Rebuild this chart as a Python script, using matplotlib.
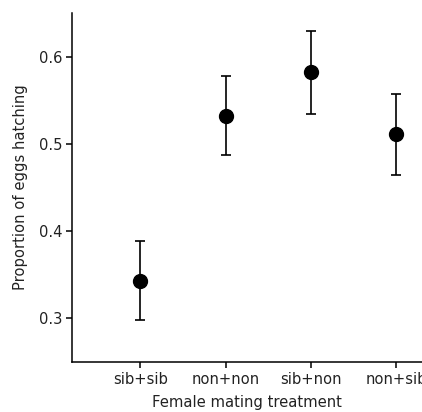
import matplotlib
matplotlib.use("Agg")
import matplotlib.pyplot as plt

# Proportion of eggs hatching by female mating treatment (mean +/- error)
treatments = ["sib+sib", "non+non", "sib+non", "non+sib"]
means = [0.343, 0.532, 0.582, 0.511]
lower = [0.298, 0.487, 0.534, 0.464]
upper = [0.389, 0.578, 0.629, 0.557]

err_low = [m - lo for m, lo in zip(means, lower)]
err_high = [hi - m for m, hi in zip(means, upper)]

plt.rcParams["font.family"] = ["DejaVu Sans"]
text_color = "#222222"

fig = plt.figure(figsize=(4.22, 4.12), dpi=100)
ax = fig.add_axes([0.1706, 0.1214, 0.8294, 0.847])

x = list(range(len(treatments)))
ax.errorbar(x, means, yerr=[err_low, err_high], fmt="o", color="black",
            markersize=10, elinewidth=1.2, capsize=3.3, capthick=1.2)

ax.set_xlim(-0.8, 3.3)
ax.set_ylim(0.25, 0.65)
ax.set_xticks(x)
ax.set_xticklabels(treatments)
ax.set_yticks([0.3, 0.4, 0.5, 0.6])
ax.set_yticklabels(["0.3", "0.4", "0.5", "0.6"])

for side in ["top", "right"]:
    ax.spines[side].set_visible(False)
for side in ["left", "bottom"]:
    ax.spines[side].set_linewidth(1.1)

ax.tick_params(direction="out", length=4, width=1.1, pad=3,
               labelsize=10.6, labelcolor=text_color)
ax.set_xlabel("Female mating treatment", fontsize=10.6, color=text_color, labelpad=6)
ax.set_ylabel("Proportion of eggs hatching", fontsize=10.6, color=text_color, labelpad=8)

fig.savefig("out.png", dpi=100)
